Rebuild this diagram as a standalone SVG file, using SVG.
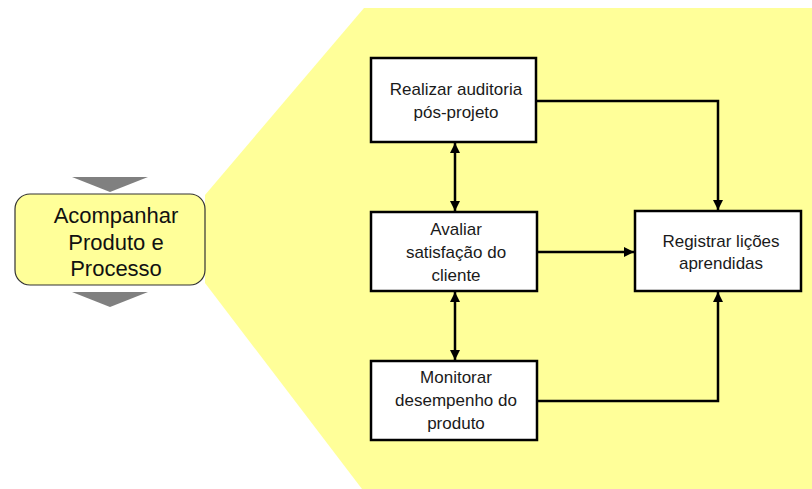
<svg xmlns="http://www.w3.org/2000/svg" width="812" height="489" viewBox="0 0 812 489">
  <style>
    .box { fill: #ffffff; stroke: #000000; stroke-width: 2.5; }
    .lbl { font-family: "Liberation Sans", Arial, sans-serif; font-size: 17px; fill: #1a1a1a; text-anchor: middle; }
    .big { font-family: "Liberation Sans", Arial, sans-serif; font-size: 22px; fill: #111111; text-anchor: middle; }
    .conn { fill: none; stroke: #000000; stroke-width: 2.5; }
  </style>
  <defs>
    <marker id="arrow" viewBox="0 0 10 10" refX="10" refY="5" markerWidth="4" markerHeight="4" orient="auto-start-reverse" markerUnits="strokeWidth">
      <path d="M0,0 L10,5 L0,10 Z" fill="#000000"/>
    </marker>
  </defs>

  <!-- expanded detail panel -->
  <polygon points="364,8 812,8 812,489 362,489 205,283 205,195" fill="#ffff99"/>

  <!-- phase block -->
  <g id="phase">
    <polygon points="72,177 148,177 110,192" fill="#808080"/>
    <rect x="15" y="194" width="190" height="91" rx="15" ry="15" fill="#ffff99" stroke="#333333" stroke-width="1.2"/>
    <text class="big" x="116" y="223">Acompanhar</text>
    <text class="big" x="116" y="250">Produto e</text>
    <text class="big" x="116" y="276">Processo</text>
    <polygon points="72,292 148,292 110,307" fill="#808080"/>
  </g>

  <g id="realizar">
    <rect class="box" x="371" y="58" width="165" height="84"/>
    <text class="lbl" x="456" y="95">Realizar auditoria</text>
    <text class="lbl" x="456" y="118">pós-projeto</text>
  </g>

  <g id="avaliar">
    <rect class="box" x="371" y="212" width="166" height="79"/>
    <text class="lbl" x="456" y="235">Avaliar</text>
    <text class="lbl" x="456" y="258">satisfação do</text>
    <text class="lbl" x="456" y="281">cliente</text>
  </g>

  <g id="monitorar">
    <rect class="box" x="371" y="361" width="166" height="79"/>
    <text class="lbl" x="456" y="383">Monitorar</text>
    <text class="lbl" x="456" y="406">desempenho do</text>
    <text class="lbl" x="456" y="429">produto</text>
  </g>

  <g id="registrar">
    <rect class="box" x="635" y="211" width="166" height="80"/>
    <text class="lbl" x="721" y="247">Registrar lições</text>
    <text class="lbl" x="721" y="269">aprendidas</text>
  </g>

  <g id="connectors">
    <path class="conn" d="M536,101 H718 V210" marker-end="url(#arrow)"/>
    <path class="conn" d="M537,252 H634" marker-end="url(#arrow)"/>
    <path class="conn" d="M537,401 H718 V292" marker-end="url(#arrow)"/>
    <path class="conn" d="M455,143 V211" marker-start="url(#arrow)" marker-end="url(#arrow)"/>
    <path class="conn" d="M455,292 V360" marker-start="url(#arrow)" marker-end="url(#arrow)"/>
  </g>
</svg>
